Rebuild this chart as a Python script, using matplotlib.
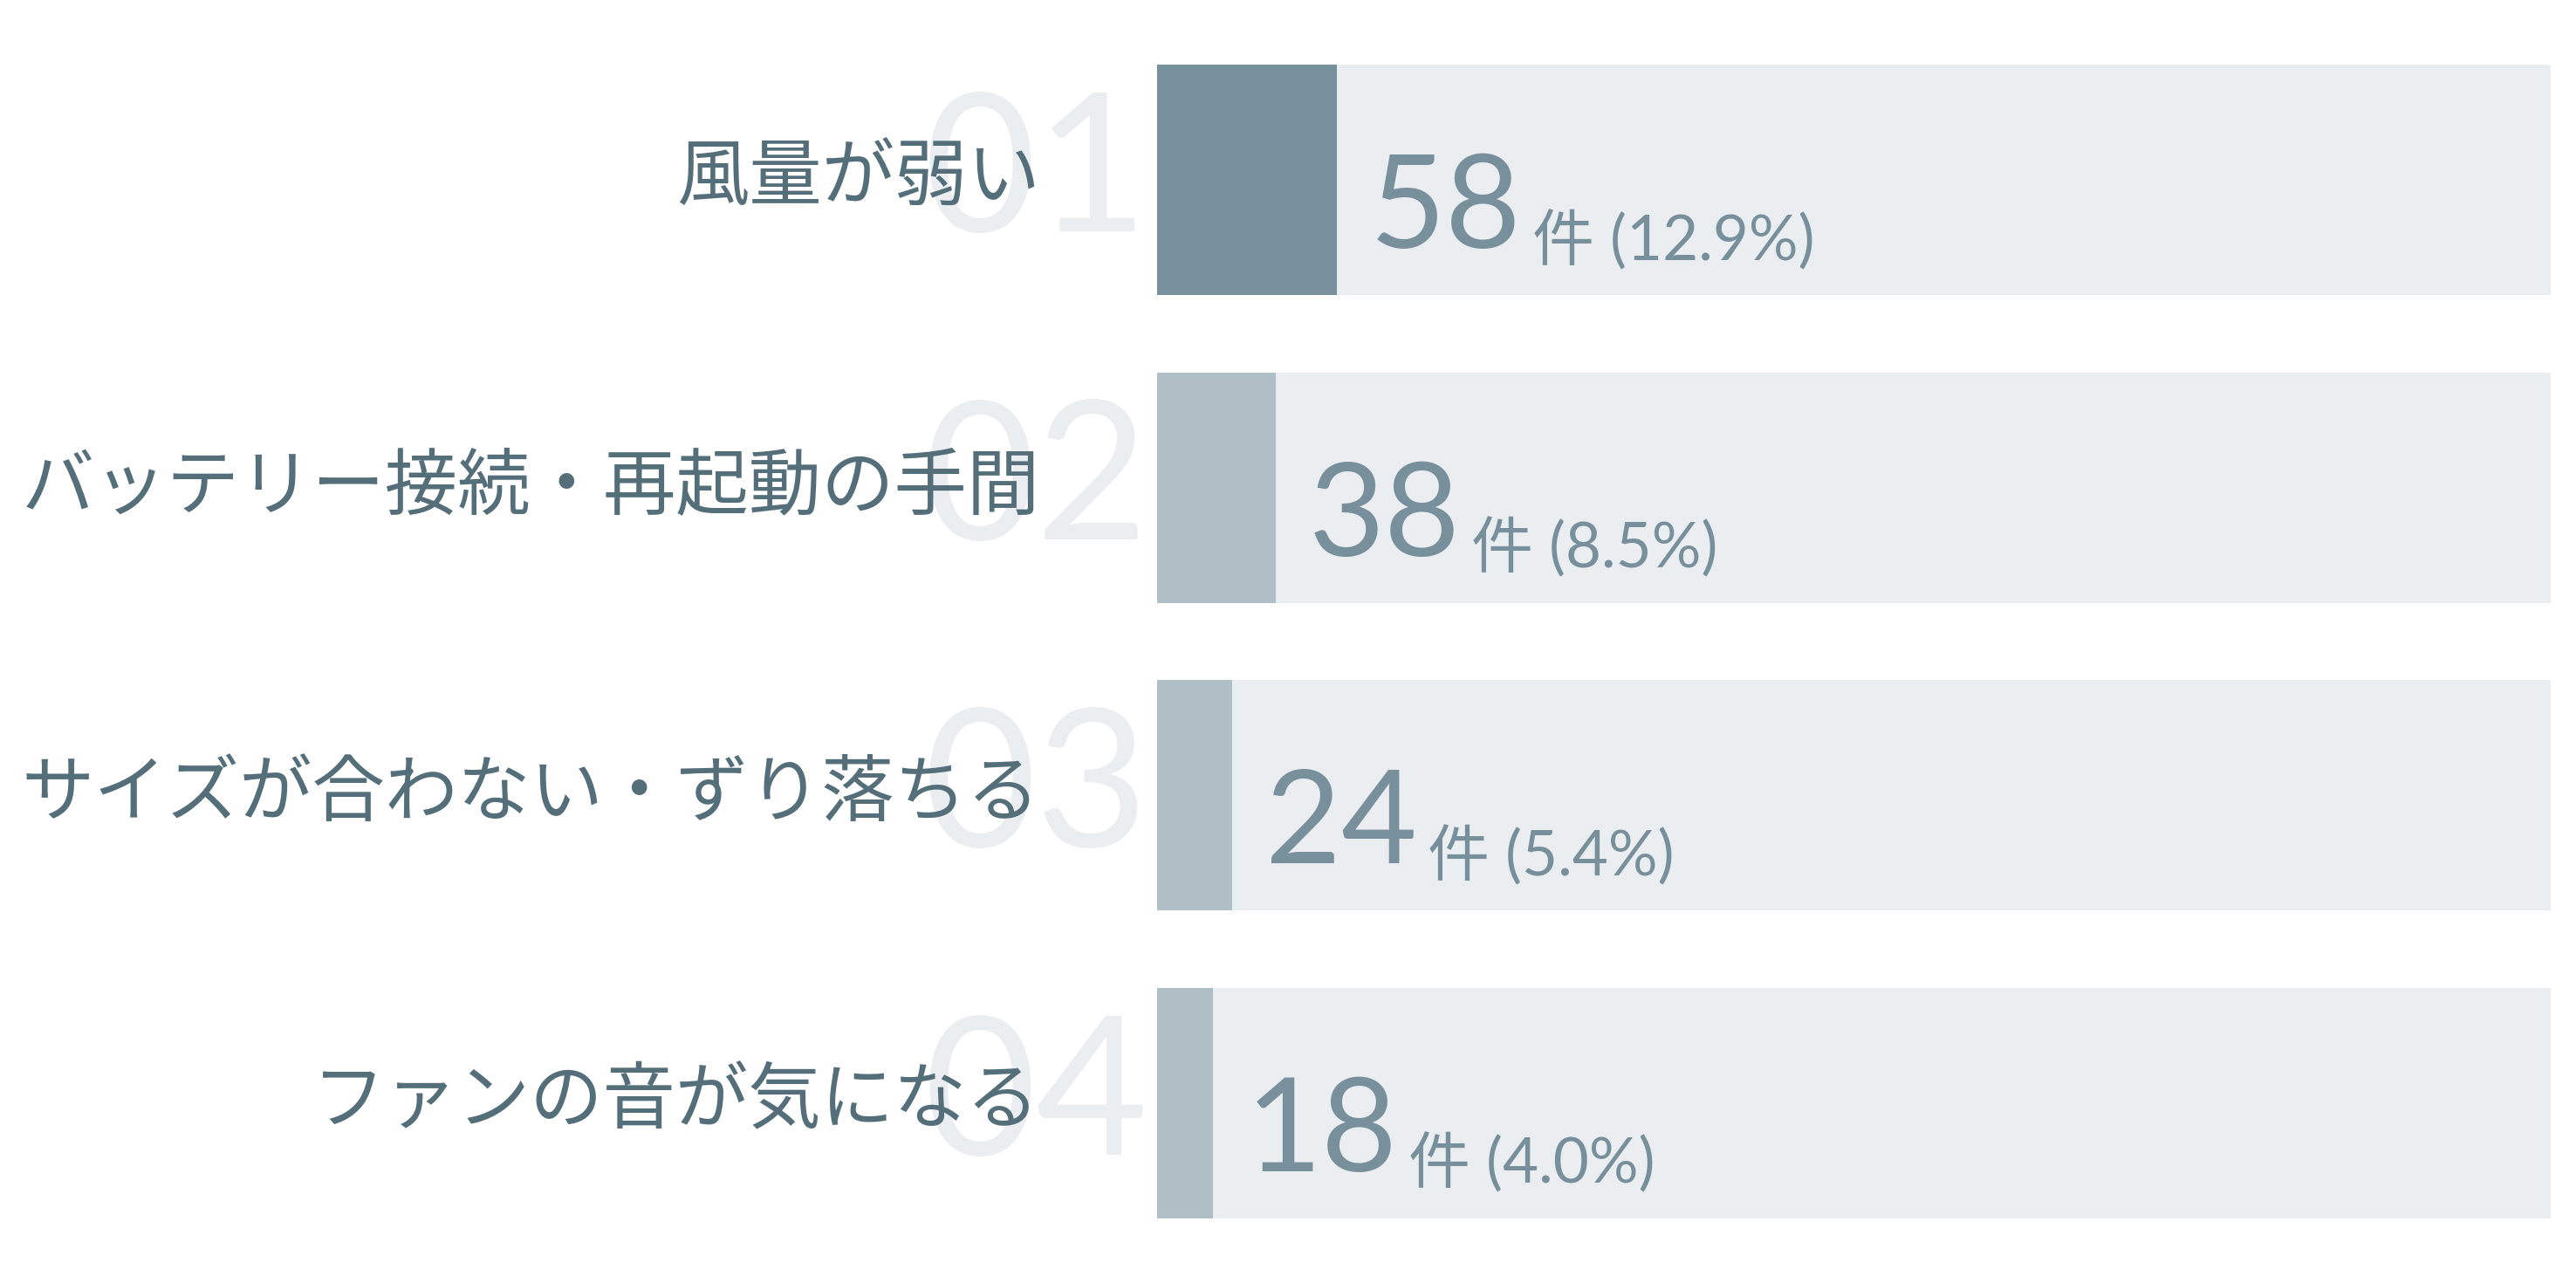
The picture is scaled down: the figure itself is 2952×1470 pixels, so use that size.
import matplotlib
matplotlib.use('Agg')
import matplotlib.pyplot as plt
from matplotlib.transforms import offset_copy

# data
categories = ['風量が弱い', 'バッテリー接続・再起動の手間', 'サイズが合わない・ずり落ちる', 'ファンの音が気になる']
counts = [58, 38, 24, 18]
percents = [12.9, 8.5, 5.4, 4.0]
ranks = ['01', '02', '03', '04']

# styles
fill_colors = ['#78909C', '#B0BEC5', '#B0BEC5', '#B0BEC5']
track_color = '#EAEEF1'
ghost_color = '#EAEEF1'
label_color = '#546E7A'
value_color = '#78909C'

plt.rcParams['font.family'] = ['Noto Sans CJK JP', 'DejaVu Sans']

W, H, DPI = 2952, 1470, 100
fig = plt.figure(figsize=(W / DPI, H / DPI), dpi=DPI)
fig.patch.set_facecolor('white')

# axes area (pixels): x 1326..2923, y 30..1440 from top
ax = fig.add_axes([1326 / W, 1 - 1440 / H, (2923 - 1326) / W, 1410 / H])
ax.set_xlim(0, 100)
ax.set_ylim(len(categories) - 0.5, -0.5)
ax.axis('off')

y = list(range(len(categories)))
ax.barh(y, [100] * len(y), height=0.75, color=track_color, zorder=1)
ax.barh(y, percents, height=0.75, color=fill_colors, zorder=2)

renderer = fig.canvas.get_renderer()

for i in y:
    # big ghost rank number
    ax.text(0, i, ranks[i], transform=offset_copy(ax.transData, fig, x=-10, y=-59, units='dots'),
            ha='right', va='baseline', fontsize=160, color=ghost_color,
            family=['Lato', 'DejaVu Sans'], zorder=0)
    # category label
    ax.text(0, i, categories[i], transform=offset_copy(ax.transData, fig, x=-134, y=-23, units='dots'),
            ha='right', va='baseline', fontsize=60, color=label_color, zorder=3)
    # value
    big = ax.text(percents[i], i, str(counts[i]),
                  transform=offset_copy(ax.transData, fig, x=38, y=-78, units='dots'),
                  ha='left', va='baseline', fontsize=108, color=value_color,
                  family=['Lato', 'DejaVu Sans'], zorder=3)
    bw = big.get_window_extent(renderer).width
    ax.text(percents[i], i, f'件 ({percents[i]:.1f}%)',
            transform=offset_copy(ax.transData, fig, x=38 + bw + 12, y=-92, units='dots'),
            ha='left', va='baseline', fontsize=51, color=value_color,
            family=['Lato', 'Noto Sans CJK JP'], zorder=3)

fig.savefig('out.png', dpi=DPI, facecolor='white')
